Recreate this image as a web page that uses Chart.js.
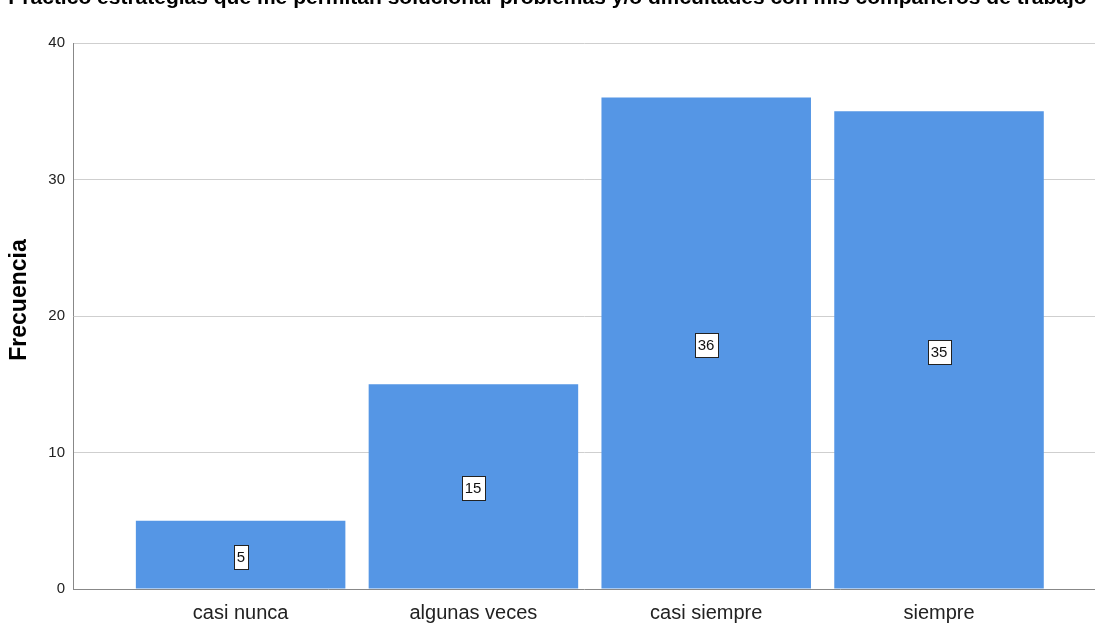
<!DOCTYPE html>
<html>
<head>
<meta charset="utf-8">
<script src="https://cdn.jsdelivr.net/npm/chart.js@4"></script>
<style>
  html, body { margin: 0; background: #fff; }
  #caja { width: 1095px; height: 626px; position: relative; }
</style>
</head>
<body>
<div id="caja"><canvas id="grafico"></canvas></div>
<script>
const titulo = 'Practico estrategias que me permitan solucionar problemas y/o dificultades con mis compañeros de trabajo';
const tituloEjeY = 'Frecuencia';
const categorias = ['casi nunca', 'algunas veces', 'casi siempre', 'siempre'];
const frecuencias = [5, 15, 36, 35];
const marcasY = [0, 10, 20, 30, 40];

const fuente = '"Liberation Sans", Arial, sans-serif';

// título arriba (recortado por el borde) y título del eje vertical
const titulos = {
  id: 'titulos',
  afterDraw(chart) {
    const ctx = chart.ctx;
    ctx.save();
    ctx.font = 'bold 21px ' + fuente;
    ctx.fillStyle = '#000';
    ctx.textAlign = 'center';
    ctx.textBaseline = 'alphabetic';
    ctx.fillText(titulo, chart.width / 2, 4);

    ctx.font = 'bold 23px ' + fuente;
    ctx.textBaseline = 'middle';
    ctx.translate(20, 300);
    ctx.rotate(-Math.PI / 2);
    ctx.fillText(tituloEjeY, 0, 0);
    ctx.restore();
  }
};

// etiquetas con el valor en cajita blanca en el centro de cada barra
const etiquetasValor = {
  id: 'etiquetasValor',
  afterDatasetsDraw(chart) {
    const ctx = chart.ctx;
    const meta = chart.getDatasetMeta(0);
    ctx.save();
    ctx.font = '15px ' + fuente;
    ctx.textAlign = 'center';
    ctx.textBaseline = 'middle';
    meta.data.forEach((barra, i) => {
      const txt = String(frecuencias[i]);
      const w = Math.round(ctx.measureText(txt).width) + 6;
      const h = 24;
      const cx = Math.round(barra.x);
      const cy = Math.round((barra.y + barra.base) / 2) + 2;
      const x0 = Math.round(cx - w / 2) + 0.5;
      const y0 = Math.round(cy - h / 2) + 0.5;
      ctx.fillStyle = '#fff';
      ctx.fillRect(x0, y0, w, h);
      ctx.strokeStyle = '#222';
      ctx.lineWidth = 1;
      ctx.strokeRect(x0, y0, w, h);
      ctx.fillStyle = '#111';
      ctx.fillText(txt, cx, cy + 1);
    });
    ctx.restore();
  }
};

new Chart(document.getElementById('grafico').getContext('2d'), {
  type: 'bar',
  data: {
    datasets: [{
      label: 'Frecuencia',
      data: frecuencias.map((v, i) => ({ x: i, y: v })),
      backgroundColor: '#5596e5',
      borderWidth: 0,
      categoryPercentage: 0.9,
      barPercentage: 1
    }]
  },
  options: {
    responsive: true,
    maintainAspectRatio: false,
    animation: false,
    layout: { padding: { top: 43, right: 0, bottom: 0, left: 0 } },
    plugins: {
      legend: { display: false },
      tooltip: { enabled: false }
    },
    scales: {
      x: {
        type: 'linear',
        offset: false,
        min: -0.72,
        max: 3.67,
        afterBuildTicks: s => { s.ticks = categorias.map((_, i) => ({ value: i })); },
        afterFit: s => { s.height = 37; },
        grid: { display: false, drawTicks: false },
        border: { color: '#888', width: 1 },
        ticks: {
          padding: 14,
          color: '#222',
          font: { family: fuente, size: 20, lineHeight: 1 },
          callback: v => categorias[v]
        }
      },
      y: {
        min: 0,
        max: 40,
        afterBuildTicks: s => { s.ticks = marcasY.map(v => ({ value: v })); },
        afterFit: s => { s.width = 73; },
        grid: {
          color: c => c.tick && c.tick.value === 0 ? 'rgba(0,0,0,0)' : '#cfcfcf',
          lineWidth: 1,
          drawTicks: false
        },
        border: { color: '#888', width: 1 },
        ticks: {
          padding: 8,
          color: '#222',
          font: { family: fuente, size: 15 }
        }
      }
    }
  },
  plugins: [titulos, etiquetasValor]
});
</script>
</body>
</html>
